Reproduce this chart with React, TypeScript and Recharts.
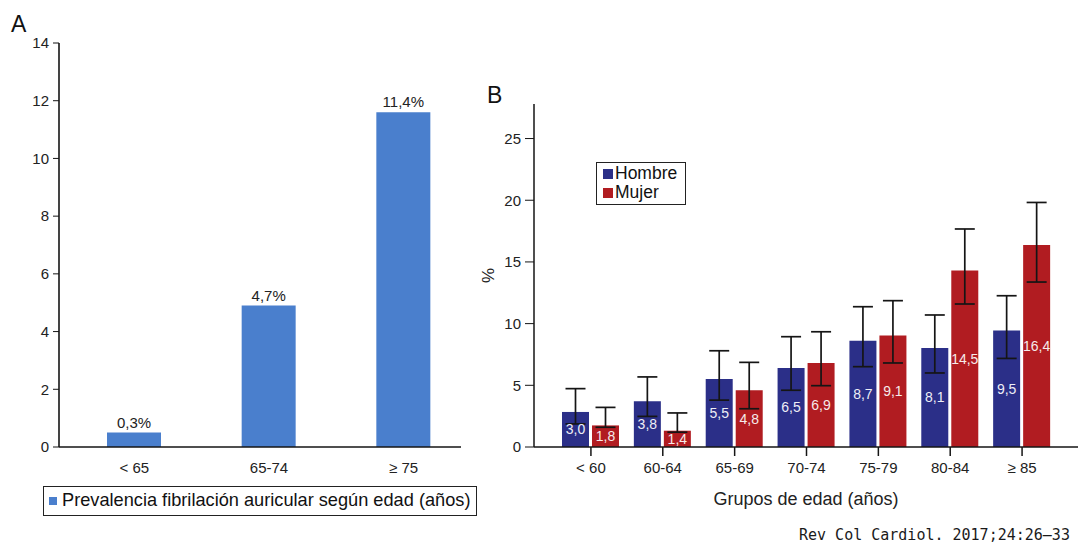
import React from "react"
import {
    Bar,
    BarChart,
    ErrorBar,
    LabelList,
    Legend,
    XAxis,
    YAxis,
} from "recharts"

// panel A
const groupsA = ["< 65", "65-74", "≥ 75"]
const prevalence = [0.5, 4.9, 11.6]
const prevalenceLabels = ["0,3%", "4,7%", "11,4%"]

// panel B
const groupsB = ["< 60", "60-64", "65-69", "70-74", "75-79", "80-84", "≥ 85"]
const hombre = [2.84, 3.7, 5.51, 6.4, 8.61, 8.02, 9.45]
const mujer = [1.75, 1.32, 4.6, 6.81, 9.04, 14.31, 16.37]
const hombreLow = [1.87, 2.48, 3.8, 4.6, 6.51, 6.0, 7.18]
const hombreHigh = [4.73, 5.68, 7.8, 8.94, 11.37, 10.7, 12.26]
const mujerLow = [1.6, 1.2, 3.1, 4.97, 6.81, 11.59, 13.37]
const mujerHigh = [3.21, 2.76, 6.86, 9.34, 11.86, 17.67, 19.82]
const hombreLabels = ["3,0", "3,8", "5,5", "6,5", "8,7", "8,1", "9,5"]
const mujerLabels = ["1,8", "1,4", "4,8", "6,9", "9,1", "14,5", "16,4"]
const ticksA = [0, 2, 4, 6, 8, 10, 12, 14]
const ticksB = [0, 5, 10, 15, 20, 25]

const dataA = groupsA.map((g, i) => ({
    group: g,
    value: prevalence[i],
    label: prevalenceLabels[i],
}))

const dataB = groupsB.map((g, i) => ({
    group: g,
    hombre: hombre[i],
    mujer: mujer[i],
    hErr: [hombre[i] - hombreLow[i], hombreHigh[i] - hombre[i]],
    mErr: [mujer[i] - mujerLow[i], mujerHigh[i] - mujer[i]],
    hLabel: hombreLabels[i],
    mLabel: mujerLabels[i],
}))

const ink = "#151515"
const tickStyle = { fill: "#222", fontSize: 15 }

// boxed legend, one row per entry
function boxLegend(box: React.CSSProperties, swatch: number, gap: number) {
    return (props: any) => (
        <div
            style={{
                border: "1.5px solid #222",
                boxSizing: "border-box",
                color: "#111",
                whiteSpace: "nowrap",
                ...box,
            }}
        >
            {(props.payload || []).map((e: any) => (
                <div key={e.value} style={{ display: "flex", alignItems: "center" }}>
                    <span
                        style={{
                            display: "inline-block",
                            width: swatch,
                            height: swatch,
                            background: e.color,
                            marginRight: gap,
                        }}
                    />
                    {e.value}
                </div>
            ))}
        </div>
    )
}

function PanelA() {
    return (
        <BarChart
            width={480}
            height={542}
            data={dataA}
            margin={{ top: 43, right: 19, bottom: 65, left: 0 }}
        >
            <XAxis
                dataKey="group"
                height={30}
                padding={{ left: 8, right: -10 }}
                tickLine={false}
                tickMargin={9}
                tick={tickStyle}
                axisLine={{ stroke: ink, strokeWidth: 1.6 }}
            />
            <YAxis
                width={59}
                domain={[0, 14]}
                ticks={ticksA}
                tickSize={6}
                tickMargin={4}
                tick={tickStyle}
                tickLine={{ stroke: ink }}
                axisLine={{ stroke: ink, strokeWidth: 1.6 }}
            />
            <Legend
                layout="horizontal"
                align="center"
                verticalAlign="middle"
                wrapperStyle={{ left: 43, top: 486, width: 434, height: 30 }}
                content={boxLegend(
                    {
                        width: 434,
                        height: 30,
                        padding: "0 0 0 5px",
                        fontSize: 18.2,
                        lineHeight: "27px",
                    },
                    8,
                    5
                )}
            />
            <Bar
                dataKey="value"
                name="Prevalencia fibrilación auricular según edad (años)"
                fill="#4a7fcd"
                barSize={54}
                isAnimationActive={false}
            >
                <LabelList
                    dataKey="label"
                    position="top"
                    offset={5}
                    fill="#222"
                    fontSize={15}
                />
            </Bar>
        </BarChart>
    )
}

function PanelB() {
    return (
        <BarChart
            width={600}
            height={542}
            data={dataB}
            margin={{ top: 104, right: 2, bottom: 25, left: 0 }}
            barSize={27}
            barGap={3}
        >
            <XAxis
                dataKey="group"
                height={70}
                padding={{ left: 21, right: 20 }}
                tickSize={9}
                tickMargin={6}
                tick={tickStyle}
                tickLine={{ stroke: ink, strokeWidth: 1.5 }}
                axisLine={{ stroke: ink, strokeWidth: 1.5 }}
                label={{
                    value: "Grupos de edad (años)",
                    position: "insideBottom",
                    offset: 12,
                    fill: "#222",
                    fontSize: 18,
                }}
            />
            <XAxis
                xAxisId="top"
                dataKey="group"
                orientation="top"
                height={0}
                tick={false}
                tickLine={false}
                axisLine={{ stroke: ink, strokeWidth: 1.5 }}
            />
            <YAxis
                width={54}
                domain={[0, 27.8]}
                ticks={ticksB}
                tickSize={9}
                tickMargin={4}
                tick={tickStyle}
                tickLine={{ stroke: ink }}
                axisLine={{ stroke: ink, strokeWidth: 1.5 }}
                label={{
                    value: "%",
                    angle: -90,
                    position: "center",
                    dx: -19,
                    fill: "#222",
                    fontSize: 17,
                }}
            />
            <YAxis
                yAxisId="right"
                orientation="right"
                width={0}
                domain={[0, 1]}
                tick={false}
                tickLine={false}
                axisLine={{ stroke: ink, strokeWidth: 1.5 }}
            />
            <Legend
                layout="vertical"
                align="center"
                verticalAlign="middle"
                wrapperStyle={{ left: 116, top: 162, width: 90, height: 43 }}
                content={boxLegend(
                    {
                        width: 90,
                        height: 43,
                        padding: "1px 0 0 6px",
                        fontSize: 17.5,
                        lineHeight: "19px",
                    },
                    10,
                    2
                )}
            />
            <Bar dataKey="hombre" name="Hombre" fill="#2b2f88" isAnimationActive={false}>
                <ErrorBar dataKey="hErr" width={10} stroke={ink} strokeWidth={1.7} />
                <LabelList dataKey="hLabel" position="center" fill="#eeeef6" fontSize={14} />
            </Bar>
            <Bar dataKey="mujer" name="Mujer" fill="#b11c21" isAnimationActive={false}>
                <ErrorBar dataKey="mErr" width={10} stroke={ink} strokeWidth={1.7} />
                <LabelList dataKey="mLabel" position="center" fill="#f6eaea" fontSize={14} />
            </Bar>
        </BarChart>
    )
}

export default function App() {
    return (
        <div
            style={{
                position: "absolute",
                left: 0,
                top: 0,
                width: 1080,
                height: 542,
                background: "#fff",
                fontFamily: "'Liberation Sans', Arial, sans-serif",
                color: "#111",
            }}
        >
            <div style={{ position: "absolute", left: 11, top: 11, fontSize: 23 }}>A</div>
            <div style={{ position: "absolute", left: 487, top: 82, fontSize: 23 }}>B</div>
            <div style={{ position: "absolute", left: 0, top: 0 }}>
                <PanelA />
            </div>
            <div style={{ position: "absolute", left: 480, top: 0 }}>
                <PanelB />
            </div>
            <div
                style={{
                    position: "absolute",
                    left: 799,
                    top: 526,
                    fontFamily: "'DejaVu Sans Mono', monospace",
                    fontSize: 15,
                    color: "#1a1a1a",
                }}
            >
                Rev Col Cardiol. 2017;24:26–33
            </div>
        </div>
    )
}
